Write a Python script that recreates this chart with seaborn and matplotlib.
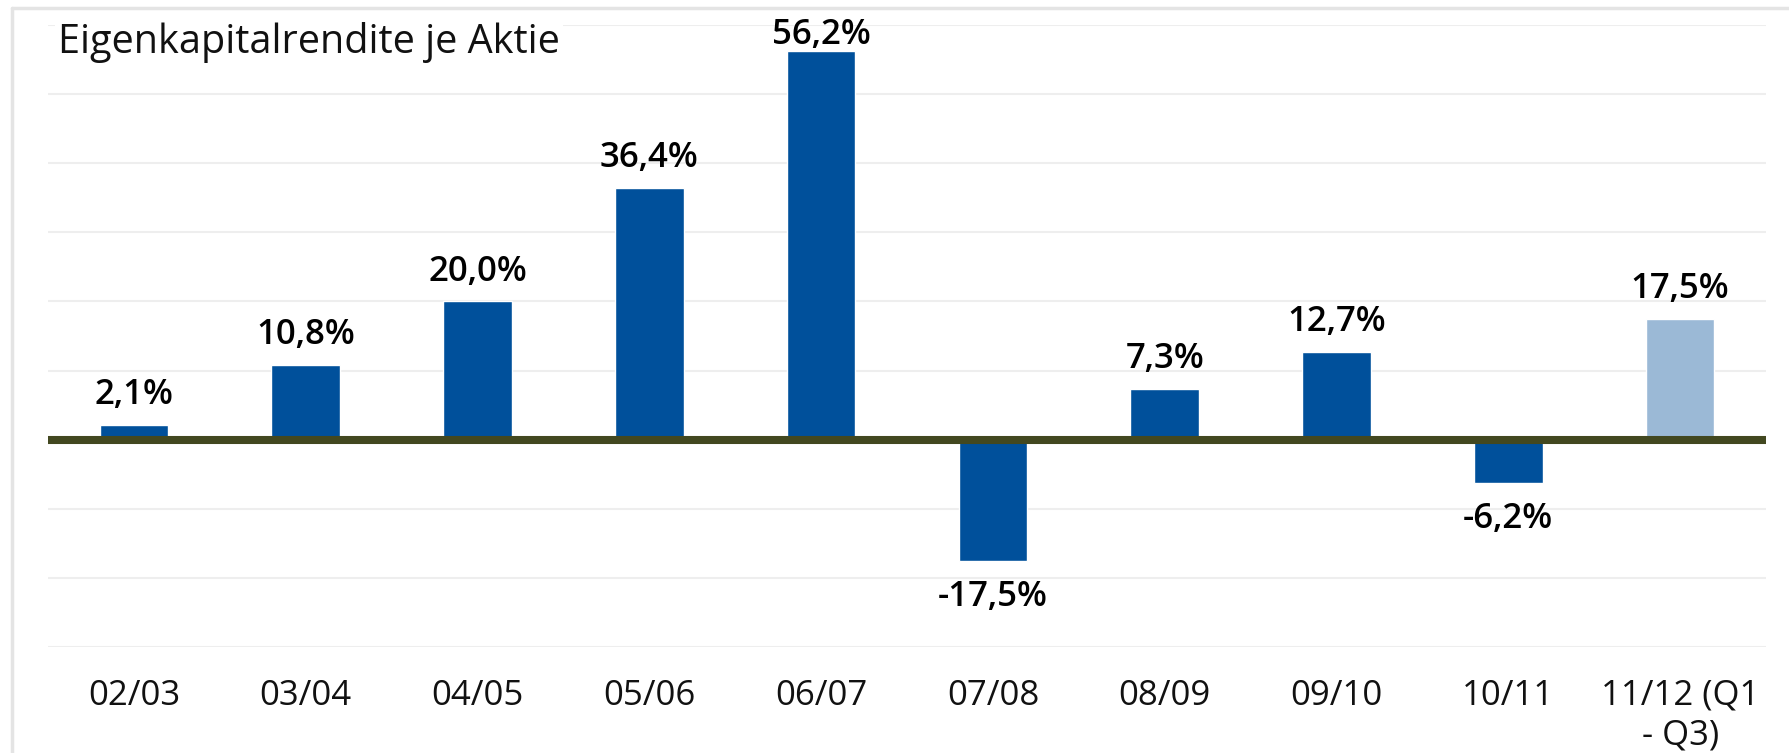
import matplotlib
matplotlib.use("Agg")
import matplotlib.pyplot as plt
from matplotlib.lines import Line2D
import seaborn as sns
import pandas as pd

categories = ["02/03", "03/04", "04/05", "05/06", "06/07", "07/08", "08/09", "09/10", "10/11", "11/12 (Q1\n- Q3)"]
values = [2.1, 10.8, 20.0, 36.4, 56.2, -17.5, 7.3, 12.7, -6.2, 17.5]
labels = ["2,1%", "10,8%", "20,0%", "36,4%", "56,2%", "-17,5%", "7,3%", "12,7%", "-6,2%", "17,5%"]
bar_colors = ["#00509B"] * 9 + ["#9BB9D6"]
title = "Eigenkapitalrendite je Aktie"

sns.set_style("white")
plt.rcParams['font.family'] = ['Open Sans', 'DejaVu Sans']

fig = plt.figure(figsize=(17.89, 7.53), dpi=100)
ax = fig.add_axes([48/1789, 1-647/753, (1766-48)/1789, (647-25)/753])

df = pd.DataFrame({"cat": categories, "val": values})
sns.barplot(data=df, x="cat", y="val", hue="cat", palette=bar_colors, legend=False,
            width=0.40, saturation=1, ax=ax, order=categories, hue_order=categories)

ax.set_ylim(-30, 60)
ax.set_xlim(-0.5, len(categories) - 0.5)
ax.set_yticks(range(-30, 61, 10))
ax.yaxis.grid(True, color="#EEEEEE", linewidth=1.5)
ax.set_axisbelow(True)
ax.set_yticklabels([])
ax.tick_params(axis="y", length=0)
ax.tick_params(axis="x", length=0, pad=23, labelsize=25, labelcolor="#111111")
for s in ax.spines.values():
    s.set_visible(False)
ax.set_xlabel("")
ax.set_ylabel("")
ax.axhline(0, color="#424820", linewidth=5.8, zorder=3)

vmax = max(values)
for i, (v, lab) in enumerate(zip(values, labels)):
    if v >= 0:
        off = 5 if v == vmax else 15   # keep the top label inside the plot area
        ax.annotate(lab, (i, v), xytext=(0, off), textcoords="offset points",
                    ha="center", va="baseline", fontsize=25, color="#000000",
                    fontweight="semibold")
    else:
        ax.annotate(lab, (i, v), xytext=(0, -14), textcoords="offset points",
                    ha="center", va="top", fontsize=25, color="#000000",
                    fontweight="semibold")

fig.text(58/1789, 1-53/753, title, fontsize=28.5, va="baseline", ha="left", color="#111111",
         bbox=dict(facecolor="white", edgecolor="none", pad=2))

fig.add_artist(Line2D([12/1789, 12/1789], [0, 1-8/753], color="#E4E4E4", linewidth=2.5, transform=fig.transFigure))
fig.add_artist(Line2D([12/1789, 1], [1-8/753, 1-8/753], color="#E4E4E4", linewidth=2.5, transform=fig.transFigure))

fig.savefig("out.png", dpi=100)
